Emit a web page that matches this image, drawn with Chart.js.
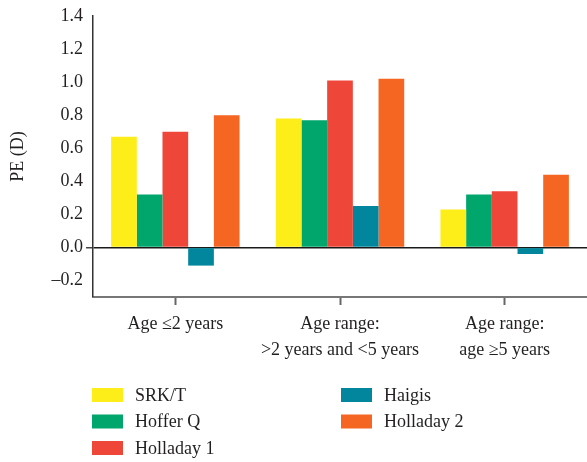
<!DOCTYPE html>
<html>
<head>
<meta charset="utf-8">
<script src="https://cdn.jsdelivr.net/npm/chart.js@4"></script>
<style>
  html, body { margin: 0; padding: 0; background: #fff; }
  #wrap { width: 587px; height: 462px; position: relative; }
</style>
</head>
<body>
<div id="wrap"><canvas id="peChart"></canvas></div>
<script>
// categories and values
const categories = [['Age \u22642 years'], ['Age range:', '>2 years and <5 years'], ['Age range:', 'age \u22655 years']];
const srkt = [0.67, 0.78, 0.23];
const hofferQ = [0.32, 0.77, 0.32];
const holladay1 = [0.70, 1.01, 0.34];
const haigis = [-0.11, 0.25, -0.04];
const holladay2 = [0.80, 1.02, 0.44];
const yTicks = [-0.2, 0, 0.2, 0.4, 0.6, 0.8, 1.0, 1.2, 1.4];

const FONT = '"Liberation Serif", "DejaVu Serif", serif';
const TEXT = '#231f20';

// two column legend under the plot
const legendPlugin = {
  id: 'colLegend',
  afterDraw(chart) {
    const c = chart.ctx;
    c.save();
    c.font = '18px ' + FONT;
    c.textBaseline = 'middle';
    chart.data.datasets.forEach(function(ds, i) {
      const col = i < 3 ? 0 : 1;
      const row = i < 3 ? i : i - 3;
      const bx = col === 0 ? 92 : 341;
      const cy = 395 + row * 26.5;
      c.fillStyle = ds.backgroundColor;
      c.fillRect(bx, cy - 7, 31, 14);
      c.fillStyle = TEXT;
      c.fillText(ds.label, bx + 43, cy + 1);
    });
    c.restore();
  }
};

new Chart(document.getElementById('peChart'), {
  type: 'bar',
  data: {
    labels: categories,
    datasets: [
      { label: 'SRK/T', data: srkt, backgroundColor: '#fdee1a' },
      { label: 'Hoffer Q', data: hofferQ, backgroundColor: '#00a66b' },
      { label: 'Holladay 1', data: holladay1, backgroundColor: '#ef463a' },
      { label: 'Haigis', data: haigis, backgroundColor: '#01869d' },
      { label: 'Holladay 2', data: holladay2, backgroundColor: '#f46621' }
    ]
  },
  options: {
    responsive: true,
    maintainAspectRatio: false,
    animation: false,
    layout: { padding: { top: 16, right: 0, bottom: 100, left: 0 } },
    datasets: { bar: { barPercentage: 1, categoryPercentage: 0.78 } },
    plugins: {
      legend: { display: false },
      tooltip: { enabled: false }
    },
    scales: {
      x: {
        grid: { offset: false, drawOnChartArea: false, color: 'transparent', tickColor: '#666', tickLength: 8, tickWidth: 2 },
        border: { color: '#777', width: 2 },
        ticks: { color: TEXT, font: { family: FONT, size: 18, lineHeight: 1.45 }, padding: 6, maxRotation: 0, autoSkip: false },
        afterFit(scale) { scale.height = 65; }
      },
      y: {
        min: -0.3,
        max: 1.4,
        afterBuildTicks(scale) { scale.ticks = yTicks.map(v => ({ value: v })); },
        grid: {
          color: ctx => (ctx.tick && ctx.tick.value === 0) ? '#1a1a1a' : 'transparent',
          lineWidth: ctx => (ctx.tick && ctx.tick.value === 0) ? 1.5 : 0,
          tickColor: '#444',
          tickLength: 7
        },
        border: { color: '#333', width: 1.5 },
        ticks: {
          color: TEXT,
          font: { family: FONT, size: 18 },
          padding: 3,
          callback: v => v.toFixed(1).replace('-', '\u2013')
        },
        title: { display: true, text: 'PE (D)', color: TEXT, font: { family: FONT, size: 18 }, padding: { top: 7, bottom: 0 } },
        afterFit(scale) { scale.width = 93; }
      }
    }
  },
  plugins: [legendPlugin]
});
</script>
</body>
</html>
